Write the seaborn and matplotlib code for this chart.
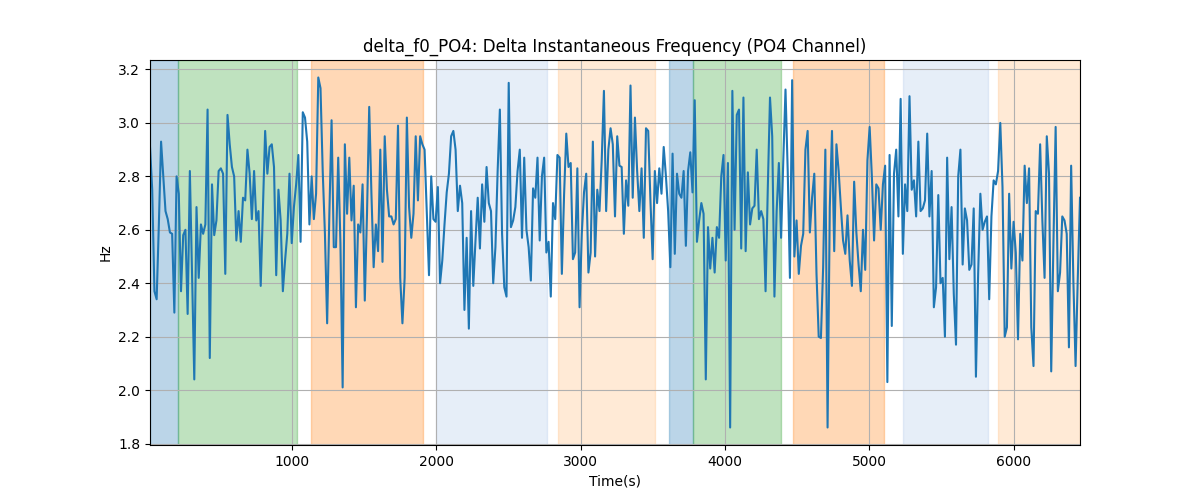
import numpy as np
import matplotlib
matplotlib.use("Agg")
import matplotlib.pyplot as plt
import seaborn as sns

# delta f0 values (Hz), read left to right off the reference
hz = [
    2.91, 2.75, 2.37, 2.34, 2.62, 2.93, 2.80, 2.67, 2.64, 2.59, 2.585, 2.29,
    2.80, 2.735, 2.37, 2.58, 2.60, 2.285, 2.82, 2.43, 2.04, 2.685, 2.42, 2.62,
    2.585, 2.62, 3.05, 2.12, 2.77, 2.58, 2.635, 2.82, 2.83, 2.81, 2.435, 3.03,
    2.92, 2.835, 2.80, 2.56, 2.67, 2.555, 2.72, 2.71, 2.90, 2.81, 2.64, 2.82,
    2.635, 2.67, 2.39, 2.68, 2.97,
    2.81, 2.91, 2.92, 2.835, 2.43, 2.75, 2.635, 2.37, 2.485, 2.585, 2.81, 2.55,
    2.685, 2.77, 2.88, 2.555, 3.04, 3.02, 2.93, 2.62, 2.80, 2.64, 2.735, 3.17,
    3.13, 2.82, 2.585, 2.25, 2.66, 3.01, 2.535, 2.535, 2.87, 2.55, 2.01, 2.92,
    2.66, 2.87, 2.635, 2.765, 2.31, 2.62, 2.59, 2.77, 2.335, 2.66, 3.06, 2.735,
    2.46, 2.62, 2.52, 2.90, 2.48, 2.95,
    2.75, 2.65, 2.65, 2.62, 2.64, 2.99, 2.42, 2.25, 2.42, 3.02, 2.685, 2.57,
    2.66, 2.95, 2.71, 2.95, 2.92, 2.90, 2.66, 2.43, 2.80, 2.64, 2.63, 2.76,
    2.40, 2.485, 2.62, 2.74, 2.81, 2.95, 2.97, 2.90, 2.67, 2.765, 2.70, 2.30,
    2.57, 2.23, 2.67, 2.39, 2.56, 2.72, 2.53, 2.77, 2.63, 2.835, 2.70, 2.67,
    2.40, 2.535, 2.82, 3.05, 2.585, 2.385,
    2.35, 3.15, 2.61, 2.635, 2.685, 2.82, 2.90, 2.57, 2.87, 2.60, 2.535, 2.41,
    2.755, 2.72, 2.87, 2.56, 2.80, 2.87, 2.515, 2.555, 2.35, 2.70, 2.64, 2.88,
    2.87, 2.435, 2.73, 2.96, 2.835, 2.85, 2.49, 2.515, 2.83, 2.31, 2.585, 2.74,
    2.81, 2.44, 2.515, 2.93, 2.50, 2.75, 2.67, 2.86, 3.12, 2.67, 2.90, 2.98,
    2.92, 2.65,
    2.95, 2.84, 2.835, 2.585, 2.785, 2.69, 3.14, 2.72, 3.02, 2.82, 2.67, 2.83,
    2.57, 2.98, 2.97, 2.71, 2.49, 2.82, 2.70, 2.83, 2.735, 2.91, 2.80, 2.67,
    2.46, 2.885, 2.51, 2.81, 2.735, 2.72, 2.82, 2.54, 2.82, 2.89, 2.74, 3.085,
    2.555, 2.635, 2.70, 2.66, 2.04, 2.61, 2.455, 2.57, 2.44, 2.61, 2.57, 2.80,
    2.88, 2.485, 2.85, 1.86,
    3.12, 2.60, 3.03, 3.05, 2.53, 3.095, 2.52, 2.815, 2.62, 2.68, 2.69, 2.90,
    2.64, 2.67, 2.64, 2.37, 2.755, 3.095, 2.95, 2.35, 2.67, 2.85, 2.57, 2.86,
    3.125, 2.82, 2.42, 3.16, 2.50, 2.635, 2.435, 2.54, 2.585, 2.90, 2.97, 2.59,
    2.72, 2.81, 2.435, 2.20, 2.195, 2.46, 2.90, 1.86, 2.685, 2.97, 2.52, 2.92,
    2.82, 2.685, 2.56, 2.51,
    2.654, 2.485, 2.39, 2.78, 2.59, 2.47, 2.37, 2.60, 2.45, 2.86, 2.985, 2.80,
    2.56, 2.77, 2.755, 2.60, 2.77, 2.84, 2.03, 2.88, 2.24, 2.81, 2.90, 2.65,
    3.09, 2.51, 2.77, 2.67, 3.10, 2.75, 2.785, 2.65, 2.93, 2.67, 2.68, 2.71,
    2.96, 2.65, 2.82, 2.31, 2.385, 2.73, 2.40, 2.42, 2.20, 2.87, 2.49, 2.685,
    2.36, 2.17, 2.80, 2.90,
    2.47, 2.68, 2.635, 2.45, 2.47, 2.68, 2.05, 2.435, 2.735, 2.60, 2.63, 2.65,
    2.34, 2.65, 2.785, 2.77, 2.82, 3.00, 2.76, 2.20, 2.235, 2.735, 2.455, 2.63,
    2.515, 2.19, 2.585, 2.485, 2.84, 2.70, 2.83, 2.235, 2.09, 2.67, 2.66, 2.92,
    2.635, 2.42, 2.95, 2.81, 2.07, 2.55, 2.985, 2.37, 2.44, 2.65, 2.635, 2.585,
    2.16, 2.84, 2.41, 2.09, 2.42, 2.72,
]
t_start, t_end = 16, 6460

# labelled segments (start, end, colour)
seg_start = [16, 210, 1132, 1998, 2843, 3613, 3779, 4472, 5234, 5893]
seg_end = [210, 1035, 1908, 2767, 3516, 3779, 4389, 5103, 5823, 6460]
seg_color = ["tab:blue", "tab:green", "tab:orange", "#aec7e8", "#ffbb78",
             "tab:blue", "tab:green", "tab:orange", "#aec7e8", "#ffbb78"]

time = np.linspace(t_start, t_end, len(hz))

fig, ax = plt.subplots(figsize=(12, 5), dpi=100)
for s, e, c in zip(seg_start, seg_end, seg_color):
    ax.axvspan(s, e, color=c, alpha=0.3)
sns.lineplot(x=time, y=hz, ax=ax, color="tab:blue", linewidth=1.5)
ax.set_xlim(t_start, t_end)
ax.grid(True)
ax.set_title("delta_f0_PO4: Delta Instantaneous Frequency (PO4 Channel)")
ax.set_xlabel("Time(s)")
ax.set_ylabel("Hz")
fig.savefig("out.png")
